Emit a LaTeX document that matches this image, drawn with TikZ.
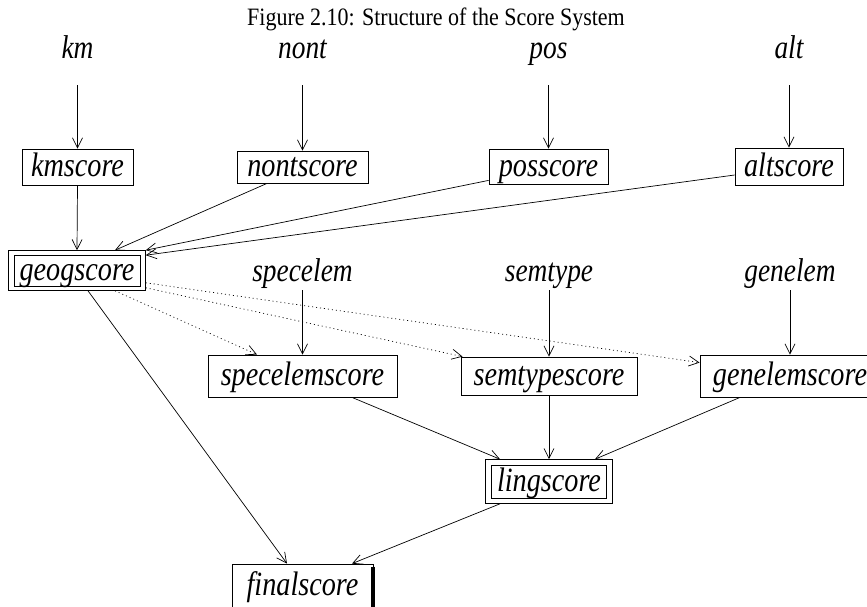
\documentclass[tikz,border=0pt]{standalone}
\usepackage{fontspec}
\setmainfont{Liberation Serif}
\newfontfamily\lblfont[FakeStretch=0.83]{Liberation Serif}
\newfontfamily\ttlfont[FakeStretch=0.88]{Liberation Serif}
\usetikzlibrary{arrows.meta,fit}
\begin{document}
\begin{tikzpicture}[x=1pt,y=1pt,
  lab/.style={font=\lblfont\fontsize{33}{33}\selectfont\itshape, inner sep=0pt, text depth=0pt, anchor=base},
  box/.style={draw, line width=0.8pt, inner sep=0pt, font=\lblfont\fontsize{34}{34}\selectfont\itshape, text height=25pt, text depth=6pt},
  frame/.style={draw, line width=0.8pt},
  arr/.style={line width=0.7pt, -{Straight Barb[length=10pt,width=10pt,line width=0.7pt]}},
  dotarr/.style={arr, dash pattern=on 1pt off 3pt}]
\useasboundingbox (0,0) rectangle (867,-607);
\fill[white] (0,0) rectangle (867,-607);
\node[font=\ttlfont\fontsize{25}{25}\selectfont, anchor=base] (title) at (436,-26) {Figure 2.10: Structure of the Score System};
% top inputs
\node[lab] (km) at (77.5,-59) {km};
\node[lab] (nont) at (302.5,-59) {nont};
\node[lab] (pos) at (548.5,-59) {pos};
\node[lab] (alt) at (789,-59) {alt};
% first-level boxes
\node[box, minimum width=111pt, minimum height=36pt] (kms) at (77.5,-167) {kmscore};
\node[box, minimum width=131pt, minimum height=32pt] (nonts) at (302.5,-167) {nontscore};
\node[box, minimum width=119pt, minimum height=35pt] (poss) at (548.5,-166.5) {posscore};
\node[box, minimum width=108pt, minimum height=37pt] (alts) at (789,-166.5) {altscore};
% geogscore
\node[box, minimum width=126pt, minimum height=27pt] (g) at (77,-270.5) {geogscore};
\node[frame, fit=(g), inner xsep=5pt, inner ysep=4pt] (G) {};
% second inputs
\node[lab] (specelem) at (302.5,-281) {specelem};
\node[lab] (semtype) at (549,-281) {semtype};
\node[lab] (genelem) at (790,-281) {genelem};
% second-level boxes
\node[box, minimum width=189pt, minimum height=42pt] (specs) at (302.5,-376) {specelemscore};
\node[box, minimum width=176pt, minimum height=38pt] (semts) at (549,-376) {semtypescore};
\node[box, minimum width=180pt, minimum height=42pt] (genels) at (790,-376) {genelemscore};
% lingscore
\node[box, minimum width=115pt, minimum height=33pt] (l) at (549,-481.5) {lingscore};
\node[frame, fit=(l), inner xsep=5.5pt, inner ysep=5pt] (L) {};
% finalscore
\node[box, minimum width=141pt, minimum height=44pt] (final) at (302.5,-586) {finalscore};
\draw[line width=4pt] ([yshift=-3pt]final.north east) -- (final.south east);
% arrows top
\draw[arr] ([yshift=-26pt]km.south) -- (kms.north);
\draw[arr] ([yshift=-26pt]nont.south) -- (nonts.north);
\draw[arr] ([yshift=-26pt]pos.south) -- (poss.north);
\draw[arr] ([yshift=-26pt]alt.south) -- (alts.north);
\draw[arr] (kms.south) -- (G.north);
\draw[arr] ([xshift=-35.5pt]nonts.south) -- ([xshift=38pt]G.north);
\draw[arr] ([yshift=4pt]poss.south west) -- (G.north east);
\draw[arr] ([yshift=-8.5pt]alts.west) -- ([yshift=-5pt]G.north east);
% dotted
\draw[dotarr] ([xshift=38pt]G.south) -- ([xshift=-45.5pt]specs.north);
\draw[dotarr] ([yshift=3pt]G.south east) -- ([xshift=2pt]semts.north west);
\draw[dotarr] ([yshift=8pt]G.south east) -- ([yshift=-8pt]genels.north west);
% second inputs
\draw[arr] ([yshift=-9pt]specelem.south) -- (specs.north);
\draw[arr] ([yshift=-9pt]semtype.south) -- (semts.north);
\draw[arr] ([yshift=-9pt]genelem.south) -- (genels.north);
% to lingscore
\draw[arr] ([xshift=49.5pt]specs.south) -- ([xshift=-49pt]L.north);
\draw[arr] (semts.south) -- (L.north);
\draw[arr] ([xshift=-50pt]genels.south) -- ([xshift=46pt]L.north);
% to finalscore
\draw[arr] ([xshift=11pt]G.south) -- ([xshift=-15.5pt]final.north);
\draw[arr] ([xshift=-49pt]L.south) -- ([xshift=49.5pt]final.north);
\end{tikzpicture}
\end{document}
